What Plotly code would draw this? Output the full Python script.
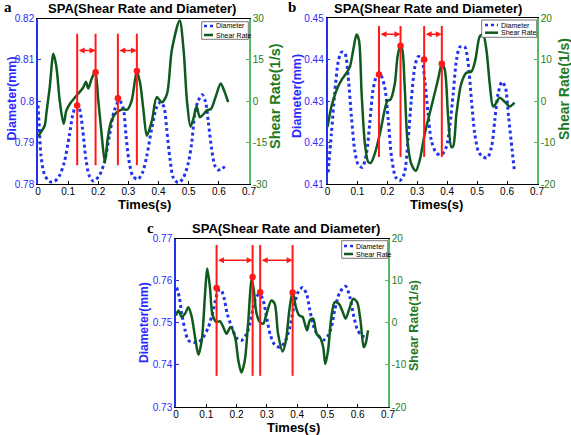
import plotly.graph_objects as go

W, H = 571, 435

# ---------------- DATA ----------------
# Panel a
a_t_diam = [0, 0.004, 0.01, 0.021, 0.0375, 0.054, 0.071, 0.087, 0.104, 0.115, 0.126, 0.137, 0.148, 0.159,
            0.17, 0.184, 0.203, 0.22, 0.237, 0.253, 0.27, 0.283, 0.292, 0.301, 0.314, 0.331, 0.347, 0.361,
            0.377, 0.394, 0.407, 0.418, 0.427, 0.438, 0.449, 0.465, 0.482, 0.499, 0.51, 0.521, 0.532, 0.545,
            0.556, 0.565, 0.576, 0.587, 0.598, 0.609, 0.62]
a_diam = [0.799, 0.7941, 0.7868, 0.7824, 0.7806, 0.7806, 0.782, 0.7852, 0.7917, 0.7966, 0.7989, 0.7982,
          0.7933, 0.786, 0.782, 0.7807, 0.782, 0.7852, 0.7917, 0.7977, 0.8002, 0.7982, 0.7917, 0.786, 0.782,
          0.7811, 0.7828, 0.7868, 0.7933, 0.7986, 0.7998, 0.7986, 0.7933, 0.786, 0.7815, 0.7803, 0.7815,
          0.7852, 0.79, 0.7974, 0.8002, 0.8016, 0.7998, 0.795, 0.7885, 0.7844, 0.7834, 0.7837, 0.7842]
a_t_shear = [0, 0.022, 0.028, 0.039, 0.051, 0.061, 0.072, 0.085, 0.094, 0.106, 0.128, 0.15, 0.159, 0.167,
             0.178, 0.19, 0.2, 0.211, 0.222, 0.231, 0.242, 0.259, 0.281, 0.297, 0.311, 0.328, 0.339, 0.35,
             0.361, 0.378, 0.394, 0.411, 0.428, 0.444, 0.47, 0.483, 0.494, 0.506, 0.517, 0.526, 0.537, 0.55,
             0.561, 0.574, 0.589, 0.606, 0.617, 0.631]
a_shear = [-12.7, -8.9, -4.2, 5.2, 17.2, 12.5, 0.3, -8.2, -3.4, -0.9, 2.1, 5.0, 7.1, 4.6, 8.2, 10.6, 0.3,
           -11.9, -22.2, -13.7, -7.6, -4.2, -2.9, -3.0, 0.3, 11.0, 6.4, -3.4, -12.5, -7.0, 1.5, -0.4, 2.7,
           18.6, 29.3, 18.6, 0.3, -9.2, -5.8, -1.9, -5.8, -4.6, -3.2, -2.8, 1.5, 6.4, 4.0, -0.3]
a_marks = [0.13, 0.191, 0.265, 0.328]
a_dots_y = [0.799, 10.5, 0.8007, 11.0]          # diameter, shear, diameter, shear
a_dots_axis = ["d", "s", "d", "s"]
a_line_span = [24.5, -23.2]
a_arrow_y = 18.4

# Panel b
b_t_diam = [0.002, 0.013, 0.024, 0.036, 0.047, 0.058, 0.069, 0.08, 0.091, 0.102, 0.116, 0.13, 0.141, 0.152,
            0.164, 0.175, 0.191, 0.203, 0.214, 0.228, 0.241, 0.256, 0.269, 0.28, 0.292, 0.303, 0.314, 0.325,
            0.336, 0.347, 0.364, 0.381, 0.397, 0.408, 0.42, 0.431, 0.442, 0.458, 0.47, 0.481, 0.492, 0.505,
            0.52, 0.534, 0.548, 0.559, 0.57, 0.583, 0.594, 0.605, 0.617, 0.625]
b_diam = [0.4128, 0.4221, 0.4318, 0.4395, 0.4418, 0.4415, 0.4359, 0.4262, 0.4181, 0.4148, 0.414, 0.4173,
          0.4245, 0.4326, 0.436, 0.4366, 0.4334, 0.4254, 0.4165, 0.4116, 0.4108, 0.4124, 0.4205, 0.4302,
          0.4383, 0.4407, 0.4403, 0.435, 0.427, 0.4205, 0.4174, 0.4171, 0.4189, 0.4237, 0.4318, 0.4399,
          0.443, 0.4431, 0.4391, 0.4302, 0.4221, 0.4177, 0.4165, 0.4163, 0.4189, 0.4254, 0.4318, 0.4346,
          0.4334, 0.4262, 0.4181, 0.4128]
b_t_shear = [0, 0.013, 0.03, 0.047, 0.063, 0.075, 0.086, 0.097, 0.105, 0.114, 0.125, 0.136, 0.145, 0.158,
             0.175, 0.191, 0.2, 0.211, 0.225, 0.234, 0.243, 0.25, 0.258, 0.267, 0.28, 0.295, 0.308, 0.325,
             0.347, 0.369, 0.382, 0.392, 0.403, 0.414, 0.42, 0.431, 0.447, 0.464, 0.481, 0.494, 0.509, 0.52,
             0.531, 0.542, 0.553, 0.561, 0.575, 0.592, 0.609, 0.625]
b_shear = [-6.3, -1.4, 2.6, 5.1, 6.7, 8.3, 12.3, 16.0, 14.7, 1.8, -10.3, -14.7, -14.9, -12.7, -7.9, -2.2,
           0.0, 0.4, 4.2, 10.7, 13.3, 12.3, 3.4, -9.5, -15.2, -16.8, -14.3, -7.9, -1.4, 5.1, 9.0, 7.5, -3.8,
           -11.1, -10.9, -3.0, 4.2, 6.8, 7.1, 9.9, 15.6, 16.0, 12.3, 4.2, -1.3, -0.8, 0.8, -0.2, -1.3, -0.4]
b_marks = [0.172, 0.244, 0.323, 0.382]
b_dots_y = [0.4364, 13.3, 0.44, 9.0]
b_dots_axis = ["d", "s", "d", "s"]
b_line_span = [18.1, -13.5]
b_arrow_y = 16.1

# Panel c
c_t_diam = [0.002, 0.011, 0.019, 0.03, 0.041, 0.057, 0.074, 0.09, 0.107, 0.123, 0.14, 0.148, 0.158, 0.169,
            0.184, 0.2, 0.216, 0.233, 0.244, 0.255, 0.266, 0.277, 0.288, 0.299, 0.312, 0.326, 0.343, 0.359,
            0.376, 0.389, 0.403, 0.418, 0.431, 0.442, 0.455, 0.469, 0.486, 0.499, 0.513, 0.524, 0.541, 0.56,
            0.574, 0.585, 0.598, 0.612, 0.629]
c_diam = [0.7584, 0.7561, 0.7522, 0.7482, 0.7458, 0.7454, 0.7454, 0.7466, 0.749, 0.753, 0.7577, 0.7579,
          0.7561, 0.7522, 0.749, 0.7464, 0.7458, 0.7474, 0.7498, 0.7537, 0.7563, 0.7568, 0.7553, 0.7514,
          0.747, 0.7448, 0.7442, 0.7454, 0.749, 0.7537, 0.7573, 0.7584, 0.7569, 0.753, 0.749, 0.747, 0.7459,
          0.7466, 0.749, 0.753, 0.7573, 0.7587, 0.7561, 0.7522, 0.7486, 0.747, 0.7466]
c_t_shear = [0, 0.008, 0.019, 0.03, 0.041, 0.052, 0.063, 0.074, 0.085, 0.096, 0.103, 0.112, 0.121, 0.134,
             0.145, 0.156, 0.167, 0.18, 0.195, 0.206, 0.216, 0.227, 0.238, 0.25, 0.257, 0.266, 0.277, 0.288,
             0.299, 0.315, 0.326, 0.337, 0.352, 0.363, 0.374, 0.385, 0.396, 0.407, 0.418, 0.426, 0.433, 0.442,
             0.453, 0.464, 0.475, 0.486, 0.493, 0.502, 0.513, 0.524, 0.538, 0.549, 0.56, 0.574, 0.585, 0.598,
             0.609, 0.62, 0.626, 0.634]
c_shear = [1.75, 2.95, 1.4, 2.2, 3.7, 1.4, -3.4, -7.6, -4.2, 6.9, 12.9, 8.5, 1.75, 0.2, 0.4, -1.0, -2.6,
           -1.0, -3.4, -9.0, -11.8, -9.0, -0.2, 10.5, 7.7, 2.2, 0.2, -0.2, 2.2, 5.3, 4.5, -2.6, -6.8, -4.2,
           2.9, 7.4, 3.7, 1.75, 1.4, -0.4, -1.8, 0.6, 1.0, -2.6, -3.4, -5.8, -9.8, -6.6, 1.4, 4.9, 4.5, 2.9,
           1.0, 3.7, 5.7, 4.9, 0.6, -5.8, -5.0, -1.8]
c_marks = [0.134, 0.253, 0.278, 0.385]
c_dots_y = [0.7583, 10.9, 0.7573, 7.2]
c_dots_axis = ["d", "s", "d", "s"]
c_line_span = [18.5, -12.6]
c_arrow_y = 14.9

title_text = "SPA(Shear Rate and Diameter)"
x_label = "Times(s)"
y_left_label = "Diameter(mm)"
y_right_label = "Shear Rate(1/s)"
legend_labels = ["Diameter", "Shear Rate"]
panel_labels = ["a", "b", "c"]

x_ticks = [0, 0.1, 0.2, 0.3, 0.4, 0.5, 0.6, 0.7]
a_yl_ticks = [0.78, 0.79, 0.80, 0.81, 0.82]
a_yr_ticks = [-30, -15, 0, 15, 30]
b_yl_ticks = [0.41, 0.42, 0.43, 0.44, 0.45]
b_yr_ticks = [-20, -10, 0, 10, 20]
c_yl_ticks = [0.73, 0.74, 0.75, 0.76, 0.77]
c_yr_ticks = [-20, -10, 0, 10, 20]

# ---------------- STYLE ----------------
BLUE = "#2233ee"
BLUE_TXT = "#2a2aff"
GREEN = "#0f5a1e"
GREEN_AX = "#55bb66"
GREEN_TXT = "#1e7a22"
RED = "#ff1a1a"
FONT = "Arial, Liberation Sans, sans-serif"


def px(x):
    return x / W


def py(y):
    return 1 - y / H


panels = [
    dict(t_d=a_t_diam, d=a_diam, t_s=a_t_shear, s=a_shear, marks=a_marks, dots=a_dots_y, dax=a_dots_axis,
         span=a_line_span, arr=a_arrow_y, yl=a_yl_ticks, yr=a_yr_ticks,
         box=(38, 18.5, 249, 184), title=(142, 8), lab=(7.5, 7), ylt=(11.5, 99), yrt=(275, 96), xt=(144, 204),
         fs=(12.5, 14.5), leg=(201.7, 21.7, 248.3, 39.3, 204, 213, 26, 35)),
    dict(t_d=b_t_diam, d=b_diam, t_s=b_t_shear, s=b_shear, marks=b_marks, dots=b_dots_y, dax=b_dots_axis,
         span=b_line_span, arr=b_arrow_y, yl=b_yl_ticks, yr=b_yr_ticks,
         box=(327.5, 18, 537, 184), title=(428, 8), lab=(292, 7), ylt=(297, 96), yrt=(564, 89), xt=(436, 204),
         fs=(12.5, 14), leg=(481.7, 20, 536.7, 37.3, 485, 498, 25, 32.7)),
    dict(t_d=c_t_diam, d=c_diam, t_s=c_t_shear, s=c_shear, marks=c_marks, dots=c_dots_y, dax=c_dots_axis,
         span=c_line_span, arr=c_arrow_y, yl=c_yl_ticks, yr=c_yr_ticks,
         box=(176, 238.7, 388, 407), title=(286, 228), lab=(150, 228), ylt=(144, 323), yrt=(414, 326),
         xt=(293, 427.5), fs=(12, 12.5), leg=(341.7, 240.7, 387.7, 258.3, 344, 353, 246, 254)),
]

fig = go.Figure()
layout = dict(width=W, height=H, margin=dict(l=0, r=0, t=0, b=0), paper_bgcolor="white",
              plot_bgcolor="white", showlegend=False, font=dict(family=FONT, size=10, color="black"))
annotations = []
shapes = []

for i, p in enumerate(panels):
    n = i + 1
    xa = "x" if n == 1 else f"x{n}"
    ya_l = f"y{2 * n - 1}" if n > 1 else "y"
    ya_r = f"y{2 * n}"
    x0, y0, x1, y1 = p["box"]
    xkey = "xaxis" if n == 1 else f"xaxis{n}"
    ylkey = "yaxis" if n == 1 else f"yaxis{2 * n - 1}"
    yrkey = f"yaxis{2 * n}"

    layout[xkey] = dict(domain=[px(x0), px(x1)], anchor=ya_l, range=[0, 0.7], tickvals=x_ticks,
                        ticktext=[("%g" % v) for v in x_ticks], showline=True, linecolor="black",
                        linewidth=1, mirror=True, ticks="inside", ticklen=3, tickcolor="black",
                        showgrid=False, zeroline=False, tickfont=dict(size=10, color="black"),
                        ticklabelstandoff=-2, automargin=False)
    layout[ylkey] = dict(domain=[py(y1), py(y0)], anchor=xa, range=[p["yl"][0], p["yl"][-1]],
                         tickvals=p["yl"], ticktext=[("%g" % v) for v in p["yl"]], showline=True,
                         linecolor=BLUE, linewidth=1.5, ticks="inside", ticklen=3, tickcolor=BLUE,
                         showgrid=False, zeroline=False, tickfont=dict(size=10, color=BLUE_TXT),
                         automargin=False)
    layout[yrkey] = dict(overlaying=ya_l, anchor=xa, side="right", range=[p["yr"][0], p["yr"][-1]],
                         tickvals=p["yr"], ticktext=[str(v) for v in p["yr"]], showline=True,
                         linecolor=GREEN_AX, linewidth=1.5, ticks="inside", ticklen=3, tickcolor=GREEN_AX,
                         showgrid=False, zeroline=False, tickfont=dict(size=10, color=GREEN_TXT),
                         automargin=False)

    fig.add_trace(go.Scatter(x=p["t_d"], y=p["d"], mode="lines", xaxis=xa, yaxis=ya_l,
                             line=dict(color=BLUE, width=3, dash="dot", shape="spline", smoothing=0.8),
                             name=legend_labels[0]))
    fig.add_trace(go.Scatter(x=p["t_s"], y=p["s"], mode="lines", xaxis=xa, yaxis=ya_r,
                             line=dict(color=GREEN, width=2.5, shape="spline", smoothing=0.8),
                             name=legend_labels[1]))

    # red vertical marker lines
    vx, vy = [], []
    for t in p["marks"]:
        vx += [t, t, None]
        vy += [p["span"][0], p["span"][1], None]
    fig.add_trace(go.Scatter(x=vx, y=vy, mode="lines", xaxis=xa, yaxis=ya_r,
                             line=dict(color=RED, width=2), hoverinfo="skip"))
    # red dots
    for t, v, ax in zip(p["marks"], p["dots"], p["dax"]):
        fig.add_trace(go.Scatter(x=[t], y=[v], mode="markers", xaxis=xa,
                                 yaxis=ya_l if ax == "d" else ya_r,
                                 marker=dict(color=RED, size=6.5), hoverinfo="skip"))
    # arrows between pairs
    for k in (0, 2):
        t1, t2 = p["marks"][k], p["marks"][k + 1]
        annotations.append(dict(x=t2, y=p["arr"], ax=t1, ay=p["arr"], xref=xa, yref=ya_r, axref=xa,
                                ayref=ya_r, text="", showarrow=True, arrowhead=2, arrowsize=0.8,
                                arrowwidth=1.5, arrowcolor=RED, arrowside="end+start", standoff=0,
                                startstandoff=0))

    # texts
    annotations.append(dict(x=px(p["title"][0]), y=py(p["title"][1]), xref="paper", yref="paper",
                            text="<b>" + title_text + "</b>", showarrow=False, xanchor="center",
                            yanchor="middle", font=dict(size=13, color="black", family=FONT)))
    annotations.append(dict(x=px(p["lab"][0]), y=py(p["lab"][1]), xref="paper", yref="paper",
                            text="<b>" + panel_labels[i] + "</b>", showarrow=False, xanchor="center",
                            yanchor="middle",
                            font=dict(size=15, color="black", family="Liberation Serif, Times New Roman, serif")))
    annotations.append(dict(x=px(p["ylt"][0]), y=py(p["ylt"][1]), xref="paper", yref="paper",
                            text="<b>" + y_left_label + "</b>", showarrow=False, textangle=-90,
                            xanchor="center", yanchor="middle", font=dict(size=p["fs"][0], color=BLUE_TXT)))
    annotations.append(dict(x=px(p["yrt"][0]), y=py(p["yrt"][1]), xref="paper", yref="paper",
                            text="<b>" + y_right_label + "</b>", showarrow=False, textangle=-90,
                            xanchor="center", yanchor="middle", font=dict(size=p["fs"][1], color=GREEN_TXT)))
    annotations.append(dict(x=px(p["xt"][0]), y=py(p["xt"][1]), xref="paper", yref="paper",
                            text="<b>" + x_label + "</b>", showarrow=False, xanchor="center",
                            yanchor="middle", font=dict(size=13, color="black")))

    # manual legend
    lx0, ly0, lx1, ly1, sx0, sx1, r1, r2 = p["leg"]
    shapes.append(dict(type="rect", xref="paper", yref="paper", x0=px(lx0), x1=px(lx1), y0=py(ly1),
                       y1=py(ly0), line=dict(color="#555555", width=0.8), fillcolor="white", layer="above"))
    shapes.append(dict(type="line", xref="paper", yref="paper", x0=px(sx0), x1=px(sx1), y0=py(r1),
                       y1=py(r1), line=dict(color=BLUE, width=2.5, dash="dot"), layer="above"))
    shapes.append(dict(type="line", xref="paper", yref="paper", x0=px(sx0), x1=px(sx1), y0=py(r2),
                       y1=py(r2), line=dict(color=GREEN, width=2.5), layer="above"))
    for lab, r in zip(legend_labels, (r1, r2)):
        annotations.append(dict(x=px(sx1 + 0.5), y=py(r), xref="paper", yref="paper", text=lab,
                                showarrow=False, xanchor="left", yanchor="middle",
                                font=dict(size=7, color="black")))

layout["annotations"] = annotations
layout["shapes"] = shapes
fig.update_layout(**layout)
fig.write_html("out.html", config={"displayModeBar": False},
               post_script="document.body.style.margin='0';document.body.style.padding='0';")
